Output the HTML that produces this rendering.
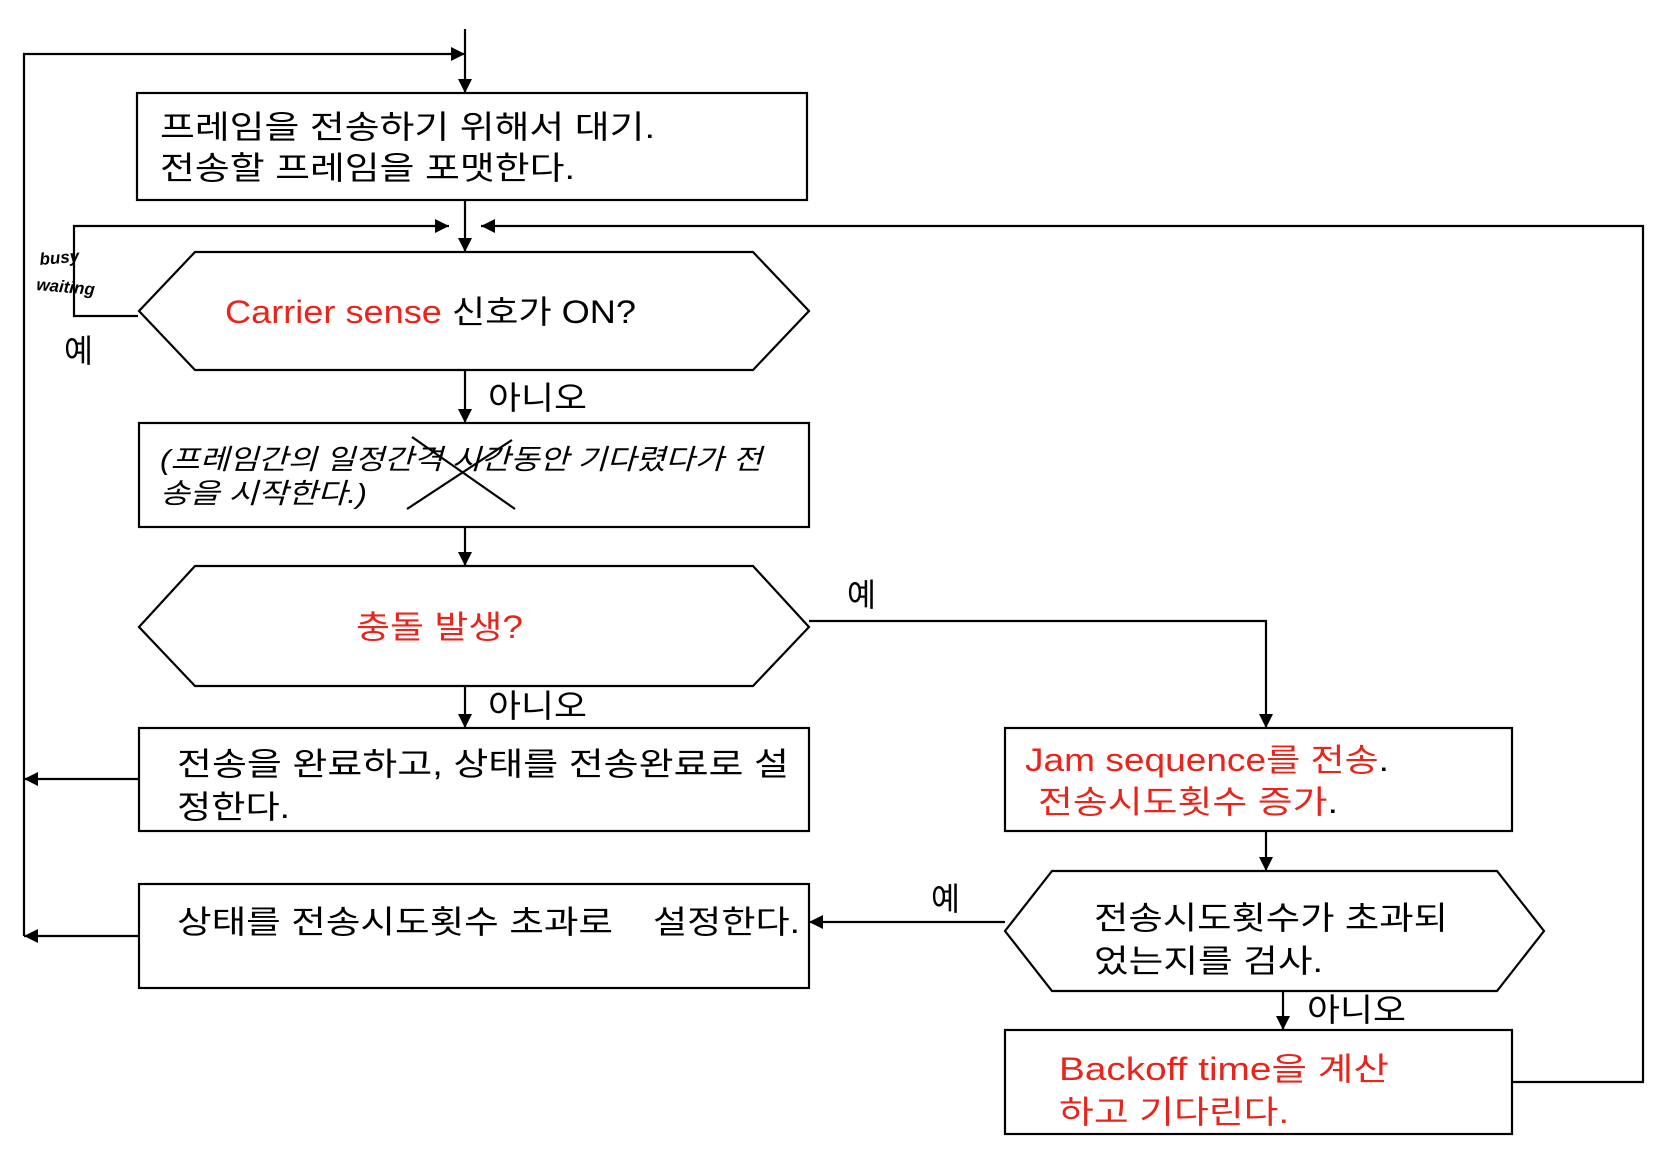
<!DOCTYPE html>
<html><head><meta charset="utf-8"><style>
html,body{margin:0;padding:0;background:#fff;}
svg{display:block;}
text{font-family:"Liberation Sans","Noto Sans CJK KR",sans-serif;font-size:32px;fill:#000;}
.r{fill:#e8251c;}
.i{font-style:italic;font-size:28px;}
</style></head><body>
<svg width="1670" height="1170" viewBox="0 0 1670 1170" xmlns="http://www.w3.org/2000/svg">
<defs>
<marker id="a" viewBox="0 0 10 10" refX="10" refY="5" markerWidth="14" markerHeight="14" markerUnits="userSpaceOnUse" orient="auto"><path d="M0,0 L10,5 L0,10 z" fill="#000"/></marker>
</defs>
<g stroke="#000" stroke-width="2.2" fill="none">
<line x1="465" y1="29" x2="465" y2="93" marker-end="url(#a)"/>
<polyline points="24,936 24,54 465,54" marker-end="url(#a)"/>
<rect x="137" y="93" width="670" height="107"/>
<line x1="465" y1="200" x2="465" y2="252" marker-end="url(#a)"/>
<polyline points="138,316 74,316 74,226 449,226" marker-end="url(#a)"/>
<polyline points="1512,1082 1643,1082 1643,226 481,226" marker-end="url(#a)"/>
<polygon points="139,311 195,252 753,252 809,311 753,370 195,370"/>
<line x1="465" y1="370" x2="465" y2="423" marker-end="url(#a)"/>
<rect x="139" y="423" width="670" height="104"/>
<line x1="407" y1="509" x2="512" y2="440"/>
<line x1="412" y1="437" x2="515" y2="509"/>
<line x1="465" y1="527" x2="465" y2="566" marker-end="url(#a)"/>
<polygon points="139,627 195,566 753,566 809,627 753,686 195,686"/>
<polyline points="809,621 1266,621 1266,728" marker-end="url(#a)"/>
<line x1="465" y1="686" x2="465" y2="728" marker-end="url(#a)"/>
<rect x="139" y="728" width="670" height="103"/>
<line x1="139" y1="779" x2="24" y2="779" marker-end="url(#a)"/>
<rect x="1005" y="728" width="507" height="103"/>
<line x1="1266" y1="831" x2="1266" y2="871" marker-end="url(#a)"/>
<polygon points="1005,931 1052,871 1497,871 1544,931 1497,991 1052,991"/>
<line x1="1005" y1="922" x2="809" y2="922" marker-end="url(#a)"/>
<rect x="139" y="884" width="670" height="104"/>
<line x1="139" y1="936" x2="24" y2="936" marker-end="url(#a)"/>
<line x1="1283" y1="991" x2="1283" y2="1030" marker-end="url(#a)"/>
<rect x="1005" y="1030" width="507" height="104"/>
</g>
<text x="160" y="138" textLength="495" lengthAdjust="spacingAndGlyphs">프레임을 전송하기 위해서 대기.</text>
<text x="160" y="179" textLength="415" lengthAdjust="spacingAndGlyphs">전송할 프레임을 포맷한다.</text>
<text x="40" y="265" style="font-size:17px;font-style:italic;font-weight:bold" transform="rotate(-5 40 265)">busy</text>
<text x="36" y="290" style="font-size:17px;font-style:italic;font-weight:bold" transform="rotate(5 36 290)">waiting</text>
<text x="225" y="323" textLength="411" lengthAdjust="spacingAndGlyphs"><tspan class="r">Carrier sense</tspan> 신호가 ON?</text>
<text x="64" y="362" textLength="29" lengthAdjust="spacingAndGlyphs">예</text>
<text x="488" y="409" textLength="99" lengthAdjust="spacingAndGlyphs">아니오</text>
<text class="i" x="160" y="469" textLength="602" lengthAdjust="spacingAndGlyphs">(프레임간의 일정간격 시간동안 기다렸다가 전</text>
<text class="i" x="160" y="503" textLength="207" lengthAdjust="spacingAndGlyphs">송을 시작한다.)</text>
<text class="r" x="356" y="638" textLength="167" lengthAdjust="spacingAndGlyphs">충돌 발생?</text>
<text x="847" y="606" textLength="29" lengthAdjust="spacingAndGlyphs">예</text>
<text x="488" y="717" textLength="99" lengthAdjust="spacingAndGlyphs">아니오</text>
<text x="177" y="775" textLength="612" lengthAdjust="spacingAndGlyphs">전송을 완료하고, 상태를 전송완료로 설</text>
<text x="177" y="818" textLength="113" lengthAdjust="spacingAndGlyphs">정한다.</text>
<text x="1025" y="771" textLength="364" lengthAdjust="spacingAndGlyphs"><tspan class="r">Jam sequence를 전송</tspan>.</text>
<text x="1038" y="813" textLength="300" lengthAdjust="spacingAndGlyphs"><tspan class="r">전송시도횟수 증가</tspan>.</text>
<text x="1094" y="929" textLength="354" lengthAdjust="spacingAndGlyphs">전송시도횟수가 초과되</text>
<text x="1094" y="972" textLength="229" lengthAdjust="spacingAndGlyphs">었는지를 검사.</text>
<text x="931" y="910" textLength="29" lengthAdjust="spacingAndGlyphs">예</text>
<text x="177" y="933" textLength="436" lengthAdjust="spacingAndGlyphs">상태를 전송시도횟수 초과로</text>
<text x="653" y="933" textLength="147" lengthAdjust="spacingAndGlyphs">설정한다.</text>
<text x="1307" y="1021" textLength="99" lengthAdjust="spacingAndGlyphs">아니오</text>
<text class="r" x="1059" y="1080" textLength="330" lengthAdjust="spacingAndGlyphs">Backoff time을  계산</text>
<text class="r" x="1059" y="1123" textLength="230" lengthAdjust="spacingAndGlyphs">하고 기다린다.</text>
</svg>
</body></html>
